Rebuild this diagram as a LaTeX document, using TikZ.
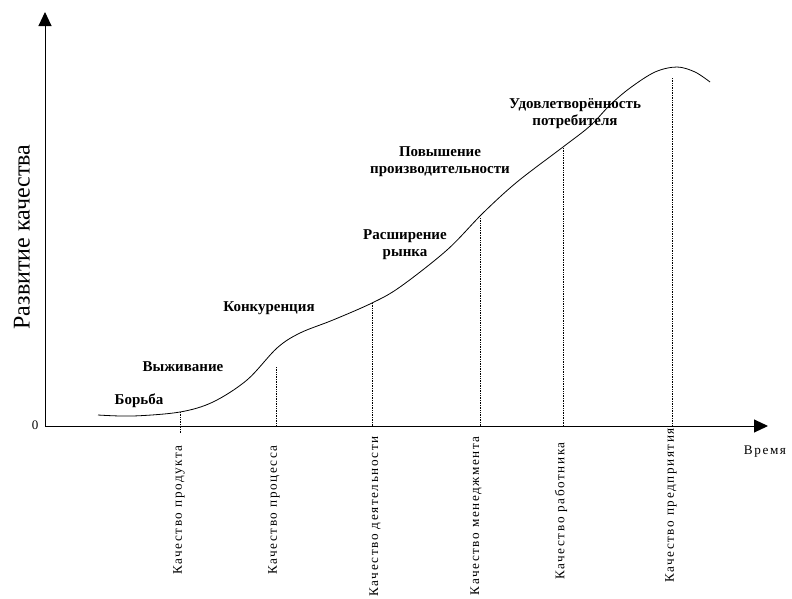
\documentclass[tikz,border=0pt]{standalone}
\usepackage{fontspec}
\setmainfont{Liberation Serif}
\newfontfamily\tickfont[LetterSpace=12]{Liberation Serif}
\usetikzlibrary{arrows.meta}

\begin{document}
\begin{tikzpicture}[x=1pt,y=-1pt,
    stage/.style={font=\fontsize{15}{17}\selectfont\bfseries,align=center,inner sep=0pt},
    tick/.style={font=\tickfont\fontsize{13.2}{14}\selectfont,rotate=90,anchor=east,inner sep=0pt},
    guide/.style={densely dotted,line width=0.7pt},
    axis/.style={line width=1pt,-{Triangle[length=14pt,width=13pt]}}]
  \useasboundingbox (0,0) rectangle (792,598);
  \coordinate (o) at (45,426);
  \coordinate (ytip) at (45,12);
  \coordinate (xtip) at (768,426);
  \draw[axis] (o) -- (ytip);
  \draw[axis] (o) -- (xtip);
  \node[font=\fontsize{13}{14}\selectfont] (zero) at (35,425) {0};
  \node[font=\fontsize{24}{26}\selectfont,rotate=90] (ylab) at (22,237) {Развитие качества};
  \node[tick,rotate=-90,anchor=center] (xlab) at (765,452) {Время};
  \draw[line width=0.8pt] plot[smooth,tension=0.55] coordinates {(98,415) (133,416) (180,412)
    (213,402) (247,380) (277,348) (300,333) (333,320) (372,303) (400,287)
    (447,250) (483,213) (517,182) (563,147) (590,126) (610,105) (630,88) (655,72)
    (677,67) (695,72) (710,82)};
  \foreach \n/\x/\t/\b/\lx/\ly/\txt in {
      1/180/412/434/179/445/Качество продукта,
      2/276/367/426/274/445/Качество процесса,
      3/372/303/426/375/436/Качество деятельности,
      4/480/218/426/476/436/Качество менеджмента,
      5/563/148/426/561/442/Качество работника,
      6/672/78/426/671/428/Качество предприятия}
  {
    \coordinate (c\n) at (\x,\t);
    \draw[guide] (c\n) -- (\x,\b);
    \node[tick] (q\n) at (\lx,\ly) {\txt};
  }
  \node[stage] (s1) at (139,401) {Борьба};
  \node[stage] (s2) at (183,367) {Выживание};
  \node[stage] (s3) at (269,308) {Конкуренция};
  \node[stage] (s4) at (405,245) {Расширение\\рынка};
  \node[stage] (s5) at (440,162) {Повышение\\производительности};
  \node[stage] (s6) at (575,114) {Удовлетворённость\\потребителя};
\end{tikzpicture}
\end{document}
